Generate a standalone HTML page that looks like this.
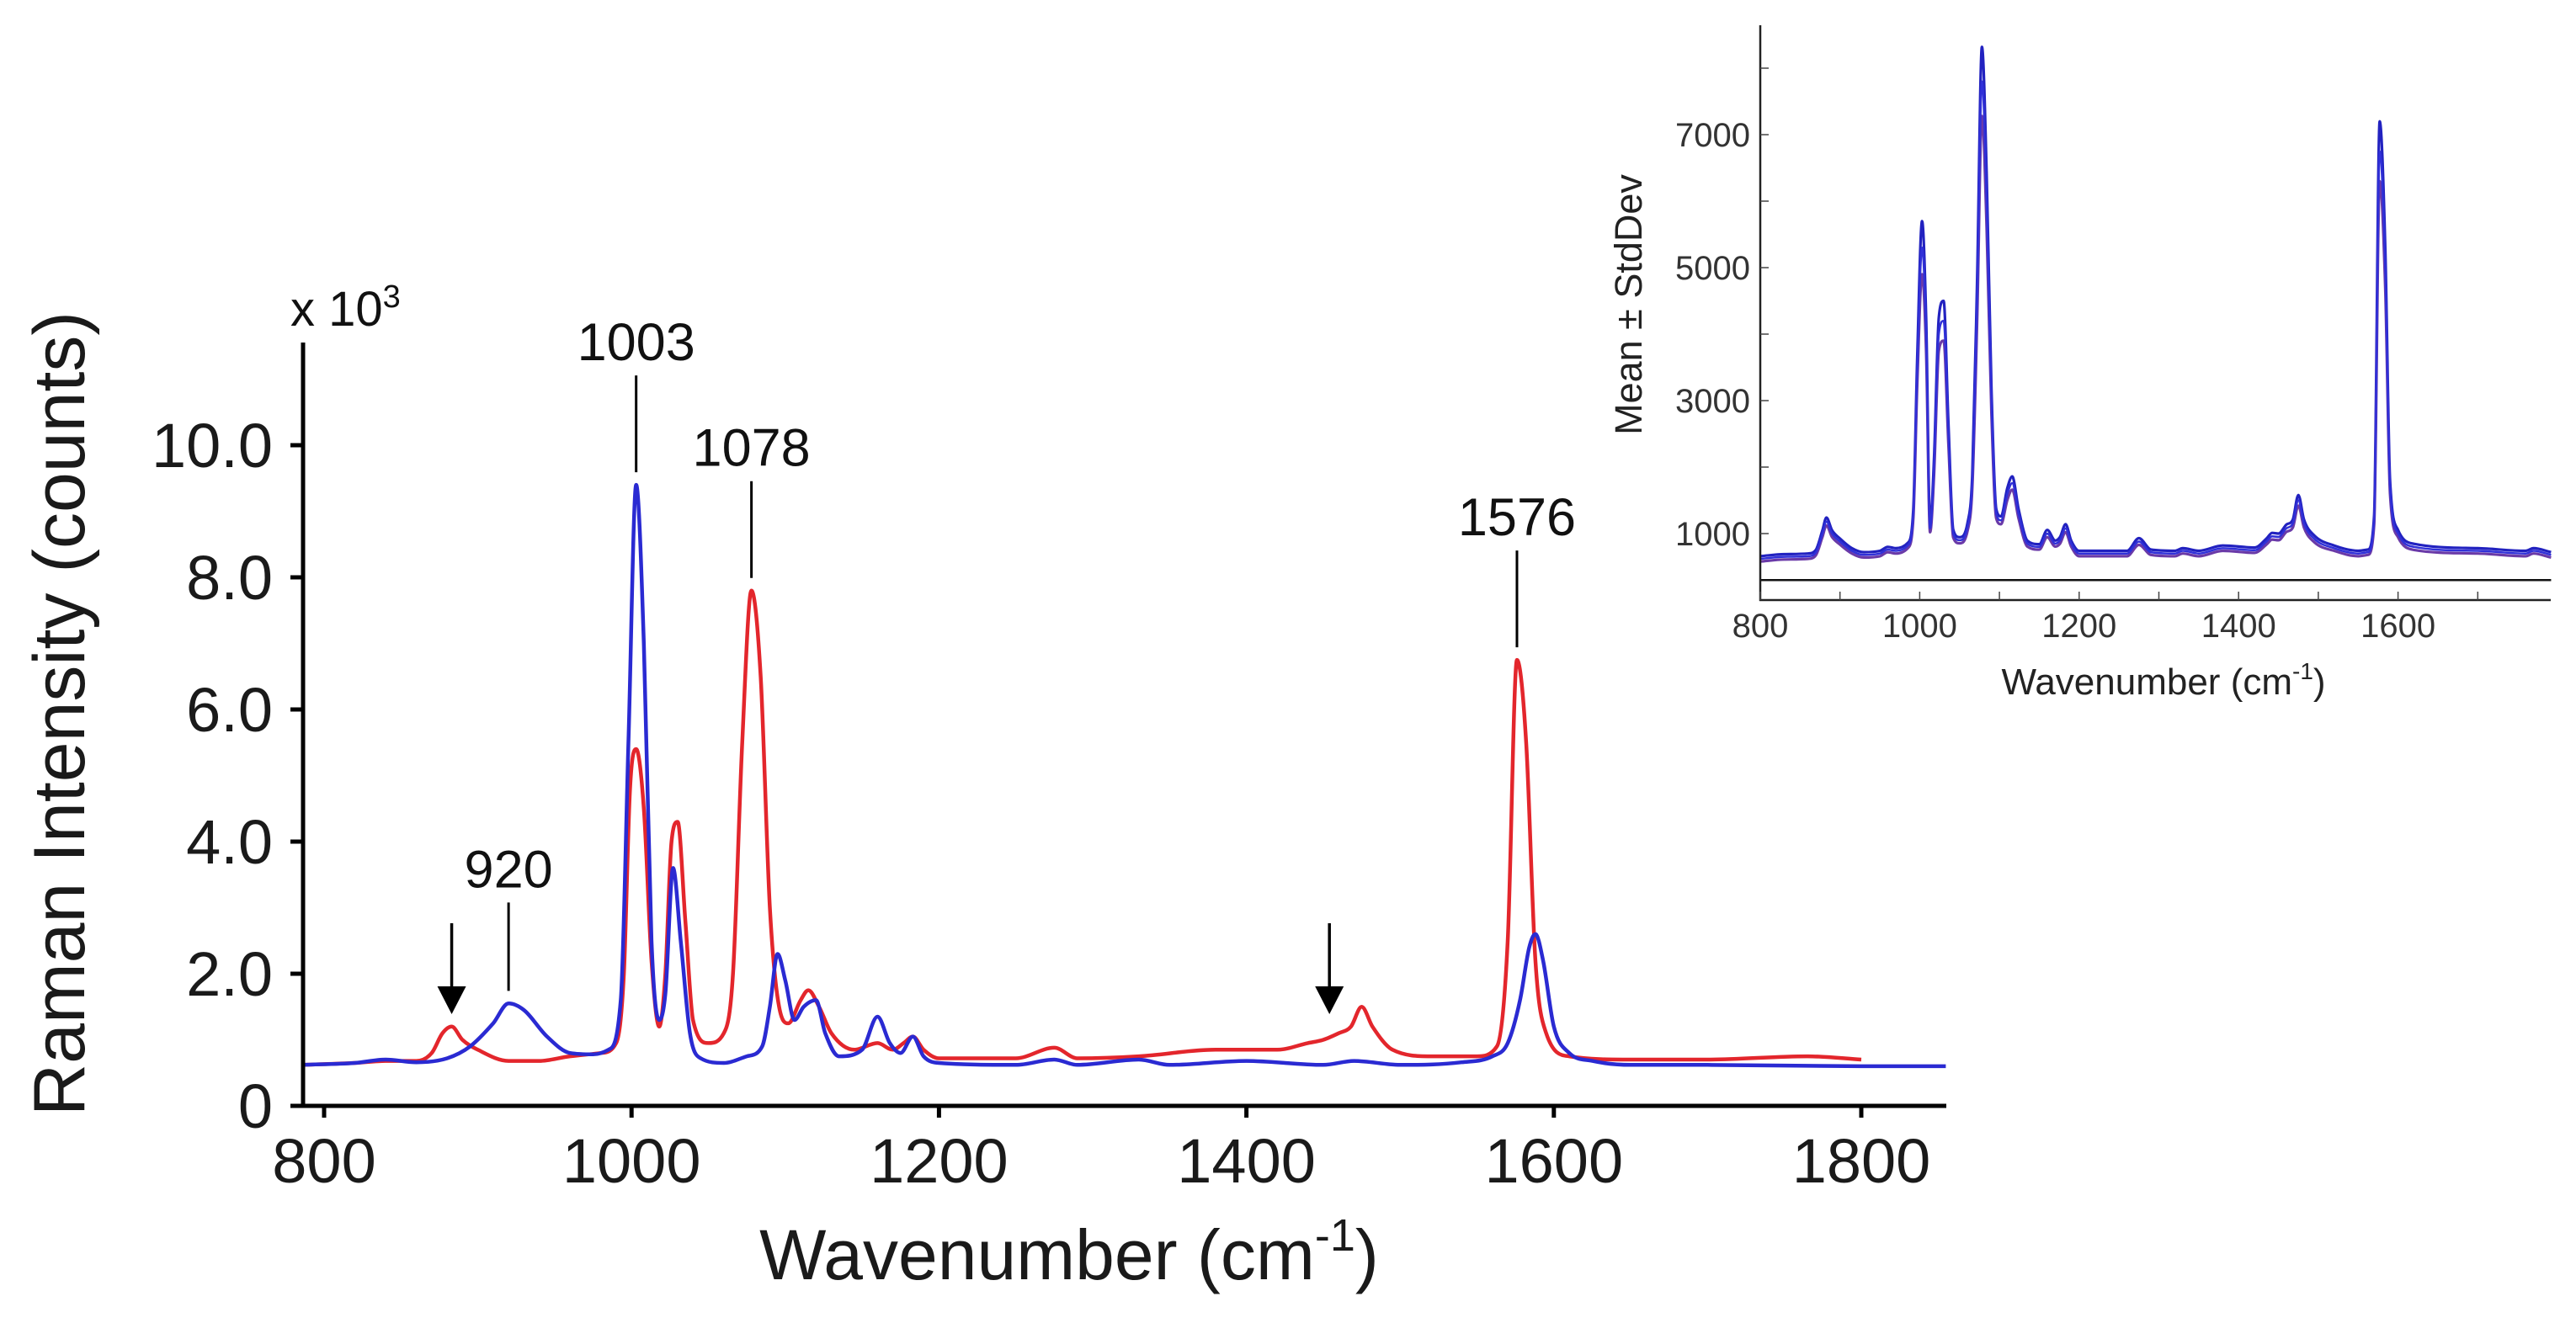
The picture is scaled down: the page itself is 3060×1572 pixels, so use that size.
<!DOCTYPE html>
<html><head><meta charset="utf-8">
<style>
html,body{margin:0;padding:0;background:#fff;}
svg{display:block;font-family:"Liberation Sans",sans-serif;}
</style></head>
<body>
<svg id="fig" width="3060" height="1572" viewBox="0 0 3060 1572" xmlns="http://www.w3.org/2000/svg">
<rect width="3060" height="1572" fill="#fff"/>
<g id="main"></g>
<g id="inset"></g>
</svg>
<script>
// ---- main chart data ----
const blueWn = [786,820,840,860,880,895,910,920,930,945,960,975,985,993,998,1003,1008,1013,1018,1022,1027,1032,1038,1045,1060,1075,1085,1090,1095,1100,1106,1112,1120,1126,1135,1150,1160,1168,1175,1183,1190,1200,1250,1275,1290,1330,1350,1400,1450,1470,1500,1540,1560,1570,1578,1584,1588,1593,1600,1610,1625,1650,1700,1800,1855];
const blueVal = [.62,.65,.7,.66,.72,.9,1.25,1.55,1.45,1.05,.8,.78,.85,1.6,5.5,9.4,7,2.5,1.3,1.7,3.6,2.5,1.1,.72,.65,.75,.9,1.5,2.3,1.9,1.3,1.5,1.6,1.1,.75,.85,1.35,.95,.8,1.05,.75,.65,.62,.7,.62,.7,.62,.68,.62,.68,.62,.66,.75,.95,1.6,2.4,2.6,2.2,1.2,.8,.68,.62,.62,.6,.6];
const redWn = [786,820,840,860,870,877,883,890,900,920,940,960,980,990,995,999,1003,1008,1013,1018,1022,1026,1030,1035,1040,1050,1060,1066,1072,1078,1084,1090,1096,1102,1110,1115,1122,1130,1145,1160,1170,1177,1183,1190,1200,1250,1275,1290,1330,1380,1420,1440,1450,1460,1468,1475,1482,1495,1520,1550,1563,1570,1576,1582,1588,1595,1610,1650,1700,1765,1800];
const redVal = [.62,.65,.68,.68,.8,1.1,1.2,1.0,.85,.68,.68,.75,.8,.95,2,4.8,5.4,4.5,2.2,1.2,2,4,4.3,2.8,1.3,.95,1.1,2,5.5,7.8,6.5,3,1.5,1.25,1.6,1.75,1.5,1.1,.85,.95,.85,.95,1.05,.85,.72,.72,.88,.72,.75,.85,.85,.95,1.0,1.1,1.2,1.5,1.2,.85,.75,.75,.9,2.5,6.75,5.5,2.2,1.1,.75,.7,.7,.75,.7];
const xTicks = [800,1000,1200,1400,1600,1800];
const yTicks = [0,2,4,6,8,10];
const yTickLabels = ["0","2.0","4.0","6.0","8.0","10.0"];
const peakLabels = [1003,1078,1576,920];
const peakLabelVals = [9.4,7.8,6.75,1.55];
const arrowWn = [883,1454];

// ---- inset data ----
const insetWn = [800,830,860,870,878,883,890,900,915,930,950,960,970,985,992,997,1003,1008,1013,1018,1024,1030,1036,1042,1050,1060,1066,1072,1078,1084,1090,1096,1102,1110,1116,1124,1135,1150,1160,1170,1176,1183,1190,1200,1260,1275,1290,1320,1330,1350,1380,1420,1435,1442,1450,1460,1468,1475,1482,1495,1520,1550,1562,1570,1577,1584,1590,1600,1620,1700,1760,1770,1792];
const insetMean = [620,650,660,720,1000,1180,1000,880,740,680,700,760,740,820,1300,3500,5300,4000,1080,2000,4000,4200,2500,1000,900,1100,1800,4500,7800,6000,3000,1300,1200,1600,1760,1300,850,800,1000,850,900,1080,850,700,700,880,720,700,740,700,780,750,880,960,950,1080,1150,1500,1150,920,780,700,720,1200,6750,5000,1700,1000,800,740,700,740,680];
const insetSd = [40,40,40,40,50,60,50,45,40,40,40,40,40,40,70,200,400,250,60,120,250,300,150,60,45,60,100,300,520,400,180,70,60,90,100,70,45,40,55,45,50,60,45,40,40,50,40,40,40,40,40,40,45,50,50,55,60,80,60,50,40,40,40,70,450,300,100,55,45,40,40,40,40];
const insetYTicks = [1000,3000,5000,7000];
const insetYMinor = [2000,4000,6000,8000];
const insetXTicks = [800,1000,1200,1400,1600];
const insetXMinor = [900,1100,1300,1500,1700];
const insetFlat = [300,300];

const NS = "http://www.w3.org/2000/svg";
function mk(parent, tag, attrs, text){
  const e = document.createElementNS(NS, tag);
  for (const k in attrs) e.setAttribute(k, attrs[k]);
  if (text !== undefined) e.textContent = text;
  parent.appendChild(e);
  return e;
}
function monoPath(xs, ys){
  const n = xs.length; const d=[], m=[];
  for(let i=0;i<n-1;i++) d.push((ys[i+1]-ys[i])/(xs[i+1]-xs[i]));
  m.push(d[0]);
  for(let i=1;i<n-1;i++) m.push(d[i-1]*d[i]<=0?0:(d[i-1]+d[i])/2);
  m.push(d[n-2]);
  for(let i=0;i<n-1;i++){
    if(d[i]===0){m[i]=0;m[i+1]=0;continue;}
    const a=m[i]/d[i], b=m[i+1]/d[i], s=a*a+b*b;
    if(s>9){const t=3/Math.sqrt(s); m[i]=t*a*d[i]; m[i+1]=t*b*d[i];}
  }
  let p = "M"+xs[0].toFixed(1)+","+ys[0].toFixed(1);
  for(let i=0;i<n-1;i++){
    const h=(xs[i+1]-xs[i])/3;
    p += " C"+(xs[i]+h).toFixed(1)+","+(ys[i]+m[i]*h).toFixed(1)+" "+(xs[i+1]-h).toFixed(1)+","+(ys[i+1]-m[i+1]*h).toFixed(1)+" "+xs[i+1].toFixed(1)+","+ys[i+1].toFixed(1);
  }
  return p;
}

// ---------- MAIN ----------
const X = wn => 385 + (wn-800)*1.826;
const Y = v => 1314 - v*78.5;
const g = document.getElementById('main');

const rp = mk(g,'path',{d:monoPath(redWn.map(X), redVal.map(Y)), fill:'none', stroke:'#e3262c', 'stroke-width':4.5, 'stroke-linejoin':'round'});


const bp = mk(g,'path',{d:monoPath(blueWn.map(X), blueVal.map(Y)), fill:'none', stroke:'#2a2ad2', 'stroke-width':4.5, 'stroke-linejoin':'round'});



const ya = mk(g,'line',{x1:360,y1:407,x2:360,y2:1316.5,stroke:'#000','stroke-width':5});


const xa = mk(g,'line',{x1:357.5,y1:1314,x2:2312,y2:1314,stroke:'#000','stroke-width':5});



xTicks.forEach(t=>{
  const tk = mk(g,'line',{x1:X(t),y1:1314,x2:X(t),y2:1328,stroke:'#000','stroke-width':5});
  
  
  const tl = mk(g,'text',{x:X(t),y:1405,'font-size':74,'text-anchor':'middle',fill:'#1a1a1a'},String(t));
  
  
});
yTicks.forEach((t,i)=>{
  const tk = mk(g,'line',{x1:345,y1:Y(t),x2:360,y2:Y(t),stroke:'#000','stroke-width':5});
  
  
  const tl = mk(g,'text',{x:324,y:Y(t)+26,'font-size':74,'text-anchor':'end',fill:'#1a1a1a'},yTickLabels[i]);
  
  
});
const mult = mk(g,'text',{x:345,y:387,'font-size':58,fill:'#111'});


mult.innerHTML = 'x 10<tspan dy="-22" font-size="38">3</tspan>';

const yt = mk(g,'text',{x:0,y:0,'font-size':86,'text-anchor':'middle',fill:'#1a1a1a',transform:'translate(100,848) rotate(-90)'},'Raman Intensity (counts)');


const xt = mk(g,'text',{x:1270,y:1520,'font-size':84,'text-anchor':'middle',fill:'#1a1a1a'});


xt.innerHTML = 'Wavenumber (cm<tspan dy="-34" font-size="54">-1</tspan><tspan dy="34">)</tspan>';

peakLabels.forEach((p,i)=>{
  const px = X(p);
  const top = Y(peakLabelVals[i]) - 15;
  const len = p===920 ? 105 : 115;
  const ln = mk(g,'line',{x1:px,y1:top-len,x2:px,y2:top,stroke:'#000','stroke-width':3});
  
  
  const lb = mk(g,'text',{x:px,y:top-len-18,'font-size':63,'text-anchor':'middle',fill:'#111'},String(p));
  
  
});
arrowWn.forEach(a=>{
  const ax = X(a);
  const ar = mk(g,'g',{});
  
  
  mk(ar,'line',{x1:ax,y1:1097,x2:ax,y2:1180,stroke:'#000','stroke-width':3.5});
  mk(ar,'polygon',{points:(ax-17)+',1172 '+(ax+17)+',1172 '+ax+',1205',fill:'#000'});
});

// ---------- INSET ----------
const IX = wn => 2091 + (wn-800)*0.947;
const IY = v => 713 - v*0.079;
const gi = document.getElementById('inset');

const up = mk(gi,'path',{d:monoPath(insetWn.map(IX), insetMean.map((m,i)=>IY(m+insetSd[i]))), fill:'none', stroke:'#2222c0','stroke-width':3.2});


const lo = mk(gi,'path',{d:monoPath(insetWn.map(IX), insetMean.map((m,i)=>IY(m-insetSd[i]))), fill:'none', stroke:'#6a3aa8','stroke-width':3.2});


const md = mk(gi,'path',{d:monoPath(insetWn.map(IX), insetMean.map(IY)), fill:'none', stroke:'#3030d8','stroke-width':2.5});


const fl = mk(gi,'line',{x1:IX(800),y1:IY(insetFlat[0]),x2:IX(1792),y2:IY(insetFlat[1]),stroke:'#111','stroke-width':2.5});



const iya = mk(gi,'line',{x1:2091,y1:30,x2:2091,y2:714,stroke:'#222','stroke-width':2.5});


const ixa = mk(gi,'line',{x1:2090,y1:713,x2:3030,y2:713,stroke:'#222','stroke-width':2.5});



insetYTicks.concat(insetYMinor).forEach(t=>{
  const tk = mk(gi,'line',{x1:2091,y1:IY(t),x2:2101,y2:IY(t),stroke:'#444','stroke-width':1.5});
  
  
});
insetYTicks.forEach(t=>{
  const tl = mk(gi,'text',{x:2079,y:IY(t)+14,'font-size':40,'text-anchor':'end',fill:'#333'},String(t));
  
  
});
insetXTicks.concat(insetXMinor).forEach(t=>{
  const tk = mk(gi,'line',{x1:IX(t),y1:703,x2:IX(t),y2:713,stroke:'#444','stroke-width':1.5});
  
  
});
insetXTicks.forEach(t=>{
  const tl = mk(gi,'text',{x:IX(t),y:757,'font-size':40,'text-anchor':'middle',fill:'#333'},String(t));
  
  
});
const iyt = mk(gi,'text',{x:0,y:0,'font-size':45,'text-anchor':'middle',fill:'#222',transform:'translate(1950,362) rotate(-90)'},'Mean ± StdDev');


const ixt = mk(gi,'text',{x:2570,y:825,'font-size':44,'text-anchor':'middle',fill:'#222'});


ixt.innerHTML = 'Wavenumber (cm<tspan dy="-18" font-size="28">-1</tspan><tspan dy="18">)</tspan>';
</script>
</body></html>
